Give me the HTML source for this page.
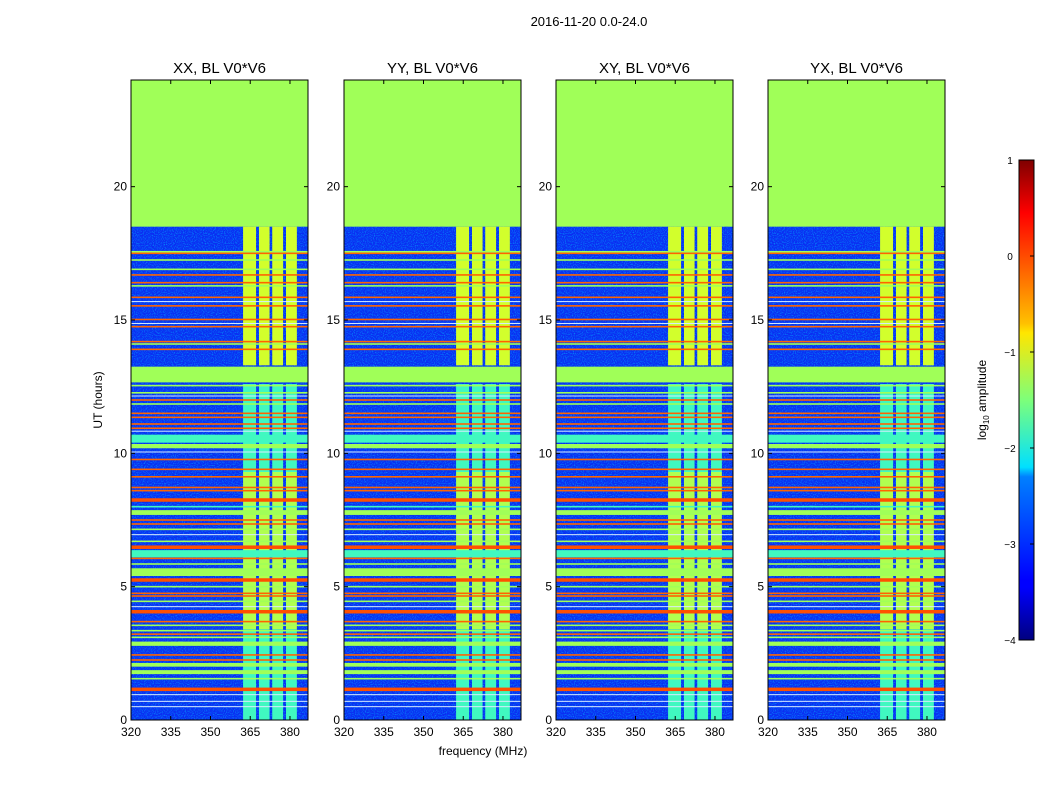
<!DOCTYPE html>
<html><head><meta charset="utf-8"><style>
html,body{margin:0;padding:0;background:#fff}
svg{display:block;font-family:"Liberation Sans",sans-serif}
</style></head><body>
<svg id="fig" width="1050" height="800" viewBox="0 0 1050 800">
<defs>
<linearGradient id="jet" x1="0" y1="1" x2="0" y2="0">
<stop offset="0" stop-color="#00007f"/><stop offset="0.11" stop-color="#0000ff"/>
<stop offset="0.125" stop-color="#0000ff"/><stop offset="0.34" stop-color="#0080ff"/>
<stop offset="0.36" stop-color="#00e0ff"/><stop offset="0.5" stop-color="#7dff7a"/>
<stop offset="0.64" stop-color="#ffe600"/><stop offset="0.66" stop-color="#ffc000"/>
<stop offset="0.89" stop-color="#ff0000"/><stop offset="1" stop-color="#7f0000"/>
</linearGradient>
<filter id="noise" x="0" y="0" width="100%" height="100%">
<feTurbulence type="fractalNoise" baseFrequency="0.9" numOctaves="1" seed="3" result="t"/>
<feColorMatrix in="t" type="matrix" values="0 0 0 0 0  0 0 0 0 0.5  0 0 0 0 1  0 0 0 2 -0.9"/>
<feComposite in2="SourceGraphic" operator="in"/>
</filter>
</defs>
<text x="589" y="26" font-size="13" text-anchor="middle">2016-11-20 0.0-24.0</text>
<text x="483" y="755" font-size="12" text-anchor="middle">frequency (MHz)</text>
<text x="102" y="400" font-size="12" text-anchor="middle" transform="rotate(-90 102 400)">UT (hours)</text>
<g id="panels"></g>
<g>
<rect x="1019" y="160" width="15" height="480" fill="url(#jet)" stroke="#000" stroke-width="1"/>
<g id="cbticks"></g>
<text x="986" y="400" font-size="12" text-anchor="middle" transform="rotate(-90 986 400)">log<tspan font-size="8" dy="3">10</tspan><tspan dy="-3"> amplitude</tspan></text>
</g>
</svg>
<script>
const panelTitles = ["XX, BL V0*V6","YY, BL V0*V6","XY, BL V0*V6","YX, BL V0*V6"];
const xTicks = [320,335,350,365,380];
const yTicks = [0,5,10,15,20];
const cbTicks = [1,0,-1,-2,-3,-4];
const bandRows = [[18.5,24,"g"],[12.66,13.25,"g"],[10.4,10.7,"c"],[10.19,10.35,"g"],[7.69,7.87,"g"],[6.1,6.37,"c"],[5.4,5.69,"g"],[2.78,2.94,"g"],[2.0,2.14,"g"],[1.72,1.87,"g"]];
const lineHours = [17.56,17.5,17.25,16.9,16.69,16.4,16.28,15.85,15.69,15.53,15.02,14.87,14.75,14.19,14.1,13.9,12.54,12.27,12.15,12.0,11.85,11.5,11.35,11.1,10.94,10.83,10.05,9.77,9.4,9.12,8.72,8.6,8.25,8.0,7.5,7.35,7.15,6.95,6.7,6.48,6.06,5.85,5.25,5.0,4.75,4.65,4.45,4.25,4.06,3.69,3.55,3.35,3.22,3.1,2.44,2.25,1.55,1.15,0.95,0.7,0.5];
const lineColors = ["g","o","g","g","o","o","g","o","w","o","o","w","o","o","g","o","g","g","w","o","g","o","o","o","o","w","w","o","o","o","o","o","O","c","o","o","g","w","g","O","o","g","O","g","o","o","g","w","O","o","g","g","o","g","o","o","g","O","w","w","w"];
const vBandLo = [362.3,368.3,373.3,378.5];
const vBandHi = [367.2,372.3,377.4,382.6];
const vFill = [[13.3,18.5,"y"],[9.3,12.6,"c"],[3.4,9.3,"Y"],[0,3.4,"c"]];
const colors = {g:"#a0ff58",o:"#ff6400",O:"#ff5000",w:"#d8ecff",c:"#40f8c0",y:"#d2ff2c",Y:"#b0ff50"};
const px = [131,344,556,768], pw = 177, yTop = 80, yBot = 720;
const fMin = 320, fMax = 386.8, hMin = 0, hMax = 24;
function xs(p,f){return px[p] + (f-fMin)/(fMax-fMin)*pw;}
function ys(h){return yBot - (h-hMin)/(hMax-hMin)*(yBot-yTop);}
const NS = "http://www.w3.org/2000/svg";
function mk(tag, attrs, parent){const e=document.createElementNS(NS,tag);for(const k in attrs)e.setAttribute(k,attrs[k]);parent.appendChild(e);return e;}
const root = document.getElementById("panels");
for(let p=0;p<4;p++){
  const g = mk("g",{},root);
  
  
  const bg = mk("rect",{x:px[p],y:yTop,width:pw,height:yBot-yTop,fill:"#0a2ef2"},g);
  
  
  const nz = mk("rect",{x:px[p],y:yTop,width:pw,height:yBot-yTop,fill:"#fff",filter:"url(#noise)",opacity:"0.9"},g);
  
  
  vFill.forEach(v=>{
    for(let i=0;i<vBandLo.length;i++){
      const r = mk("rect",{x:xs(p,vBandLo[i]),y:ys(v[1]),width:xs(p,vBandHi[i])-xs(p,vBandLo[i]),height:ys(v[0])-ys(v[1]),fill:colors[v[2]]},g);
      
      
    }
  });
  lineHours.forEach((h,i)=>{
    const k = lineColors[i];
    const th = k==="O"?3.5:(k==="w"?1:1.6);
    const r = mk("rect",{x:px[p],y:ys(h)-th/2,width:pw,height:th,fill:colors[k]},g);
    
    
  });
  bandRows.forEach(b=>{
    const r = mk("rect",{x:px[p],y:ys(b[1]),width:pw,height:ys(b[0])-ys(b[1]),fill:colors[b[2]]},g);
    
    
  });
  mk("rect",{x:px[p],y:yTop,width:pw,height:yBot-yTop,fill:"none",stroke:"#000","stroke-width":1},g);
  const t = mk("text",{x:px[p]+pw/2,y:73,"font-size":15,"text-anchor":"middle"},g);
  t.textContent = panelTitles[p];
  
  
  xTicks.forEach(f=>{
    const x = xs(p,f);
    mk("line",{x1:x,x2:x,y1:yBot,y2:yBot-4,stroke:"#000"},g);
    mk("line",{x1:x,x2:x,y1:yTop,y2:yTop+4,stroke:"#000"},g);
    const l = mk("text",{x:x,y:yBot+16,"font-size":12,"text-anchor":"middle"},g);
    l.textContent = f;
    
    
  });
  yTicks.forEach(h=>{
    const y = ys(h);
    mk("line",{x1:px[p],x2:px[p]+4,y1:y,y2:y,stroke:"#000"},g);
    mk("line",{x1:px[p]+pw,x2:px[p]+pw-4,y1:y,y2:y,stroke:"#000"},g);
    const l = mk("text",{x:px[p]-4,y:y+4,"font-size":12,"text-anchor":"end"},g);
    l.textContent = h;
    
    
  });
}
const cb = document.getElementById("cbticks");
cbTicks.forEach(v=>{
  const y = 160 + (1-v)/5*480;
  mk("line",{x1:1030,x2:1034,y1:y,y2:y,stroke:"#000"},cb);
  const l = mk("text",{x:1010,y:y+4,"font-size":10,"text-anchor":"middle"},cb);
  l.textContent = v<0 ? "\u2212"+(-v) : v;
  
  
});
</script>
</body></html>
